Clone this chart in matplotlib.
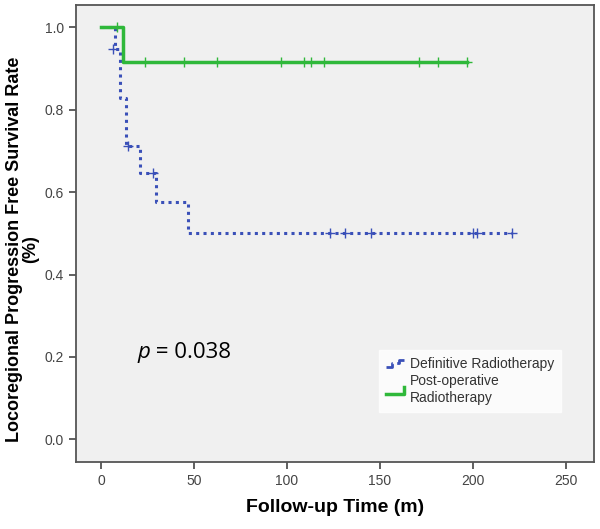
import matplotlib
matplotlib.use("Agg")
import matplotlib.pyplot as plt
from matplotlib.lines import Line2D
from matplotlib.legend_handler import HandlerBase

# Data
def_times = [0, 7.5, 10, 13.5, 21, 29.5, 47, 221]
def_surv = [1.0, 0.947, 0.829, 0.712, 0.646, 0.576, 0.502, 0.502]
def_cens_t = [6.5, 14.5, 28, 123, 131, 145, 200, 202, 221]
def_cens_s = [0.947, 0.712, 0.646, 0.502, 0.502, 0.502, 0.502, 0.502, 0.502]

post_times = [0, 12, 197]
post_surv = [1.0, 0.917, 0.917]
post_cens_t = [8.5, 23.5, 44.6, 62.5, 96.7, 109, 113, 120, 170.7, 181, 197]
post_cens_s = [1.0, 0.917, 0.917, 0.917, 0.917, 0.917, 0.917, 0.917, 0.917, 0.917, 0.917]

xticks = [0, 50, 100, 150, 200, 250]
yticks = [0.0, 0.2, 0.4, 0.6, 0.8, 1.0]
labels = ["Definitive Radiotherapy", "Post-operative\nRadiotherapy"]

blue = "#3a50b8"
green = "#2fb83a"

plt.rcParams['font.family'] = ['Liberation Sans', 'DejaVu Sans']


class StepHandler(HandlerBase):
    def __init__(self, up, **kw):
        super().__init__(**kw)
        self.up = up

    def create_artists(self, legend, orig_handle, xdescent, ydescent,
                       width, height, fontsize, trans):
        x0, x1 = -xdescent, -xdescent + width
        xm = x0 + width * 0.6
        ylo, yhi = -ydescent + height * 0.15, -ydescent + height * 0.85
        if self.up:
            xs = [x0, x0 + width * 0.3, x0 + width * 0.3, xm, xm, x1]
            ys = [ylo, ylo, (ylo + yhi) / 2, (ylo + yhi) / 2, yhi, yhi]
        else:
            xs = [x0, x0 + width * 0.85, x0 + width * 0.85]
            ys = [ylo, ylo, yhi]
        ln = Line2D(xs, ys, color=orig_handle.get_color(), lw=orig_handle.get_linewidth(),
                    linestyle=orig_handle.get_linestyle(), transform=trans)
        return [ln]


fig = plt.figure(figsize=(6.0, 5.29), dpi=100)
ax = fig.add_axes([75.7/600, (529-462)/529, (594.3-75.7)/600, (462-5)/529])
ax.set_facecolor("#f0f0f0")

ax.step(def_times, def_surv, where='post', color=blue, lw=2.2,
        linestyle=(0, (1, 1.4)))
ax.plot(def_cens_t, def_cens_s, linestyle='none', marker='+', ms=7, mew=1.0, color=blue)
ax.step(post_times, post_surv, where='post', color=green, lw=2.5)
ax.plot(post_cens_t, post_cens_s, linestyle='none', marker='+', ms=7, mew=1.0, color=green)

ax.set_xlim(-13.6, 265.2)
ax.set_ylim(-0.055, 1.0546)
ax.set_xticks(xticks)
ax.set_xticklabels([str(v) for v in xticks])
ax.set_yticks(yticks)
ax.set_yticklabels([f"{v:.1f}" for v in yticks])
ax.tick_params(direction='out', length=5, width=1.2, color="#444444",
               labelsize=10, labelcolor="#444444")
for s in ax.spines.values():
    s.set_color("#555555")
    s.set_linewidth(1.3)

ax.set_xlabel("Follow-up Time (m)", fontsize=14, fontweight='bold', labelpad=8)
ax.set_ylabel("Locoregional Progression Free Survival Rate\n(%)", fontsize=13,
              fontweight='bold', labelpad=4, linespacing=0.9)
ax.yaxis.label.set_y(0.465)

t1 = ax.text(19.4, 0.21, "p", fontsize=16, style='italic', family=['Open Sans', 'DejaVu Sans'],
             va='center', ha='left')
ax.annotate(" = 0.038", xy=(1, 0), xycoords=t1, va='bottom', ha='left',
            fontsize=16, family=['Open Sans', 'DejaVu Sans'])

h_def = Line2D([0], [0], color=blue, lw=2.0, linestyle=(0, (1, 1.4)))
h_post = Line2D([0], [0], color=green, lw=2.5)
leg = ax.legend([h_def, h_post], labels, loc='upper left', bbox_to_anchor=(0.584, 0.245),
                frameon=True, fancybox=False, fontsize=10, handlelength=1.6,
                handletextpad=0.15, borderpad=0.5, labelspacing=0.25,
                borderaxespad=0,
                handler_map={h_def: StepHandler(True), h_post: StepHandler(False)})
leg.get_frame().set_facecolor("white")
leg.get_frame().set_edgecolor("white")
for t in leg.get_texts():
    t.set_color("#333333")

fig.savefig("out.png", dpi=100)
